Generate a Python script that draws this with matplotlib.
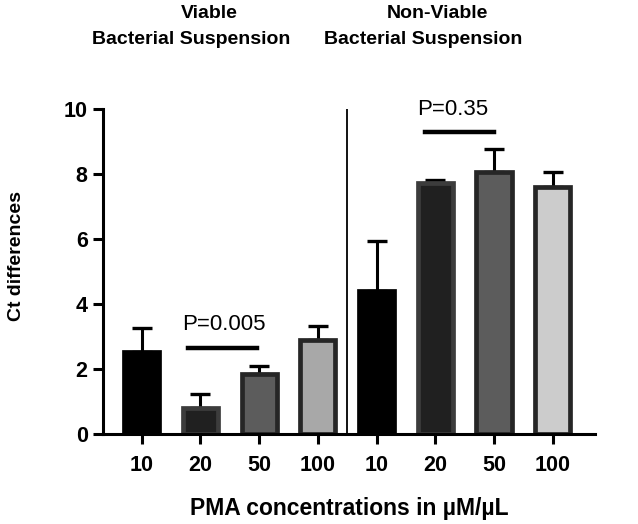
import numpy as np
import matplotlib.pyplot as plt

plt.rcParams['font.family'] = ['Liberation Sans', 'DejaVu Sans']

# PMA concentrations (tick labels) and Ct differences
concentrations = ['10', '20', '50', '100', '10', '20', '50', '100']
viable_mean = [2.53, 0.81, 1.85, 2.89]
viable_err = [0.74, 0.42, 0.25, 0.43]
nonviable_mean = [4.41, 7.71, 8.05, 7.59]
nonviable_err = [1.53, 0.09, 0.72, 0.47]

fills = ['#000000', '#202020', '#5c5c5c', '#a8a8a8',
         '#000000', '#202020', '#5c5c5c', '#cccccc']
edges = ['#000000', '#3c3c3c', '#262626', '#262626',
         '#000000', '#3c3c3c', '#262626', '#262626']

means = viable_mean + nonviable_mean
errs = viable_err + nonviable_err
x = np.arange(len(means))

fig = plt.figure(figsize=(6.38, 5.24), dpi=100)
ax = fig.add_axes([0.1614, 0.1718, 0.9326 - 0.1614, 0.792 - 0.1718])

ax.bar(x, means, width=0.6, color=fills, edgecolor=edges, linewidth=3.4, zorder=2)
ax.errorbar(x, means, yerr=[np.zeros(len(errs)), errs], fmt='none', ecolor='black',
            elinewidth=2.2, capsize=7.5, capthick=2.4, zorder=1)

# divider between viable and non-viable groups
ax.plot([3.5, 3.5], [0, 10], color='black', linewidth=1.3, zorder=3)

# significance bars
ax.plot([0.78, 1.97], [2.66, 2.66], color='black', linewidth=3.2)
ax.text(1.4, 3.05, 'P=0.005', ha='center', va='bottom', fontsize=16)
ax.plot([4.83, 6.0], [9.30, 9.30], color='black', linewidth=3.2)
ax.text(5.3, 9.65, 'P=0.35', ha='center', va='bottom', fontsize=16)

ax.set_xlim(-0.66, 7.72)
ax.set_ylim(0, 10)
ax.set_yticks([0, 2, 4, 6, 8, 10])
ax.set_xticks(x)
ax.set_xticklabels(concentrations, fontsize=15.5, fontweight='bold')
for lab in ax.get_yticklabels():
    lab.set_fontsize(15.5)
    lab.set_fontweight('bold')
ax.tick_params(width=2.2, length=7, pad=4)
ax.tick_params(axis='x', pad=8)

for side in ['top', 'right']:
    ax.spines[side].set_visible(False)
for side in ['left', 'bottom']:
    ax.spines[side].set_linewidth(2.2)

ax.set_ylabel('Ct differences', fontsize=14, fontweight='bold')
ax.yaxis.set_label_coords((25 - 103) / 492, (434 - 256) / 325)
ax.set_xlabel('PMA concentrations in µM/µL', fontsize=16.5, fontweight='bold', labelpad=15)

# group headings
fig.text(209 / 638, 1 - 14 / 524, 'Viable', ha='center', va='center', fontsize=14, fontweight='bold')
fig.text(191 / 638, 1 - 39 / 524, 'Bacterial Suspension', ha='center', va='center', fontsize=14, fontweight='bold')
fig.text(437 / 638, 1 - 14 / 524, 'Non-Viable', ha='center', va='center', fontsize=14, fontweight='bold')
fig.text(423 / 638, 1 - 39 / 524, 'Bacterial Suspension', ha='center', va='center', fontsize=14, fontweight='bold')

fig.savefig('out.png', dpi=100)
